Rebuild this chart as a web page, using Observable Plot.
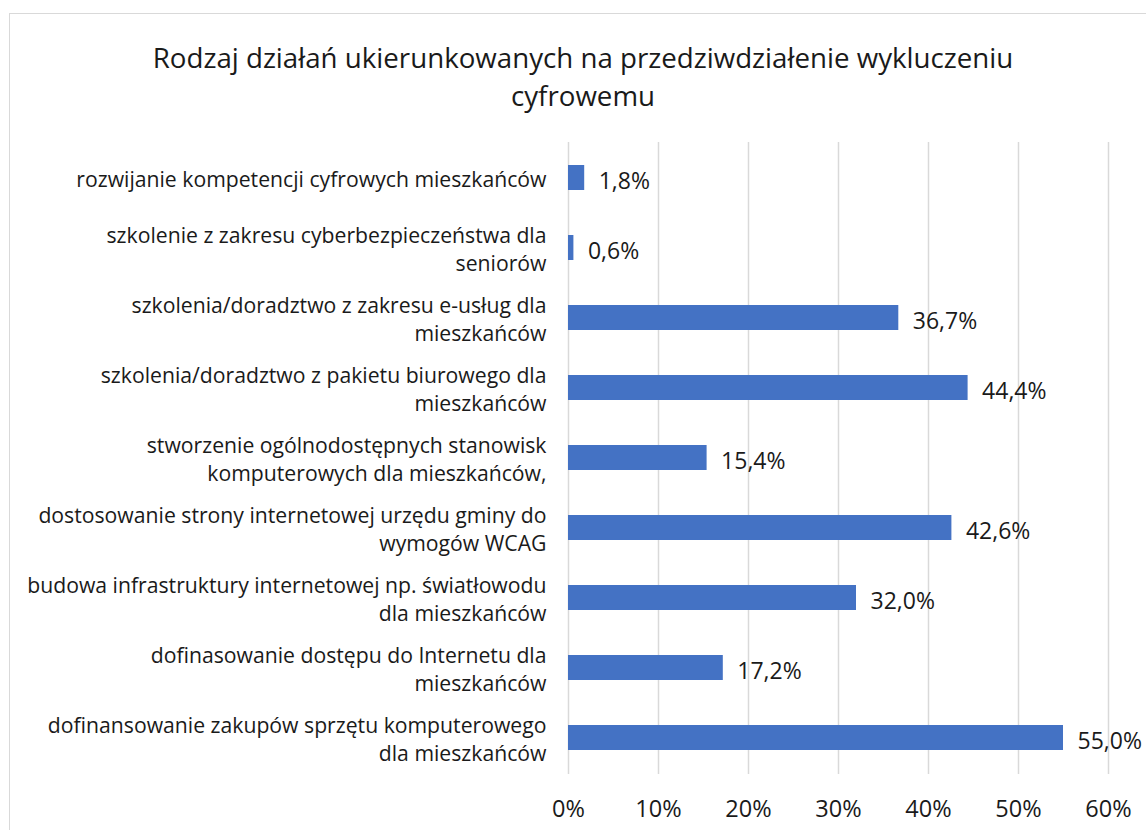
<!DOCTYPE html>
<html><head><meta charset="utf-8">
<script src="https://cdn.jsdelivr.net/npm/d3@7"></script>
<script src="https://cdn.jsdelivr.net/npm/@observablehq/plot@0.6"></script>
<style>
body{margin:0;background:#fff;width:1146px;height:830px;overflow:hidden;position:relative;font-family:"Open Sans",sans-serif;}
#frame{position:absolute;left:9px;top:13px;width:1140px;height:830px;border-left:1.5px solid #d9d9d9;border-top:1.5px solid #d9d9d9;box-sizing:border-box;}
#title{position:absolute;left:0;top:38px;width:1166px;text-align:center;font-size:27.7px;line-height:38px;color:#1a1a1a;}
#chart{position:absolute;left:0;top:114px;}
</style></head>
<body>
<div id="frame"></div>
<div id="title">Rodzaj działań ukierunkowanych na przedziwdziałenie wykluczeniu<br>cyfrowemu</div>
<div id="chart"></div>
<script>
const categories = [
  "rozwijanie kompetencji cyfrowych mieszkańców",
  "szkolenie z zakresu cyberbezpieczeństwa dla\nseniorów",
  "szkolenia/doradztwo z zakresu e-usług dla\nmieszkańców",
  "szkolenia/doradztwo z pakietu biurowego dla\nmieszkańców",
  "stworzenie ogólnodostępnych stanowisk\nkomputerowych dla mieszkańców,",
  "dostosowanie strony internetowej urzędu gminy do\nwymogów WCAG",
  "budowa infrastruktury internetowej np. światłowodu\ndla mieszkańców",
  "dofinasowanie dostępu do Internetu dla\nmieszkańców",
  "dofinansowanie zakupów sprzętu komputerowego\ndla mieszkańców"
];
const values = [1.8, 0.6, 36.7, 44.4, 15.4, 42.6, 32.0, 17.2, 55.0];
const xTicks = [0, 10, 20, 30, 40, 50, 60];

const data = categories.map((c, i) => ({cat: c, v: values[i]}));
const fmt = v => v.toFixed(1).replace(".", ",") + "%";

const chart = Plot.plot({
  width: 1146,
  height: 716,
  marginLeft: 568,
  marginRight: 38,
  marginTop: 28,
  marginBottom: 56,
  style: {fontFamily: "'Open Sans', sans-serif", fontSize: "20px", color: "#1a1a1a", background: "transparent"},
  x: {domain: [0, 60], ticks: xTicks, tickFormat: d => d + "%", label: null},
  y: {domain: categories, paddingInner: 0.64, paddingOuter: 0.3, label: null},
  marks: [
    Plot.gridX(xTicks, {stroke: "#d9d9d9", strokeOpacity: 1, strokeWidth: 1.5}),
    Plot.barX(data, {x: "v", y: "cat", fill: "#4472C4"}),
    Plot.text(data, {x: "v", y: "cat", text: d => fmt(d.v), textAnchor: "start", dx: 14, dy: 4, fontSize: 23, fill: "#1a1a1a"}),
    Plot.axisX({ticks: xTicks, tickSize: 0, tickPadding: 26, fontSize: 23.5, tickFormat: d => d + "%", label: null}),
    Plot.axisY({tickSize: 0, tickPadding: 22, fontSize: 21.2, lineHeight: 1.32, label: null, textAnchor: "end"})
  ]
});
document.getElementById("chart").appendChild(chart);
</script>
</body></html>
